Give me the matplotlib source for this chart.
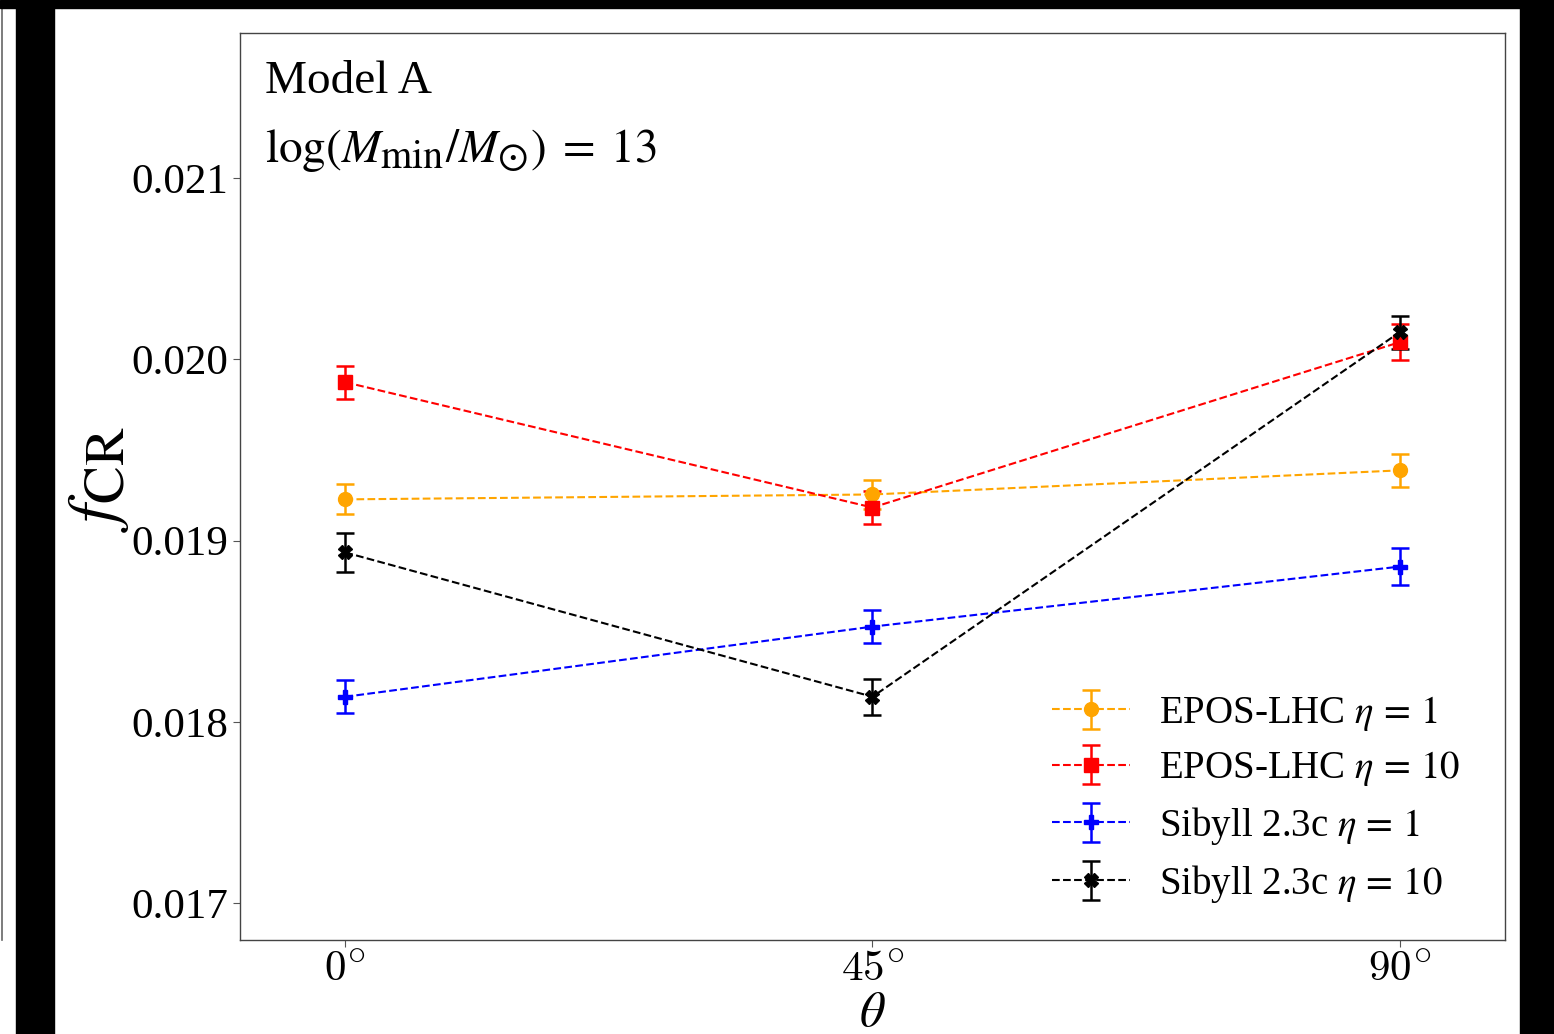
import matplotlib
matplotlib.use("Agg")
import matplotlib.pyplot as plt
from matplotlib.patches import Rectangle
from matplotlib.lines import Line2D
from matplotlib import _mathtext

plt.rcParams['font.family'] = ['Liberation Serif', 'DejaVu Serif']
plt.rcParams['mathtext.fontset'] = 'stix'
# the original (LaTeX) subscripts are set much larger than mathtext's default
_mathtext.SHRINK_FACTOR = 0.85

# zenith angle positions and labels
angles = [0, 1, 2]
angle_labels = [r'$0^{\circ}$', r'$45^{\circ}$', r'$90^{\circ}$']

# f_CR values
epos_eta1 = [0.019227, 0.019254, 0.019387]
epos_eta1_err = [0.000083, 0.000078, 0.000090]
epos_eta10 = [0.019873, 0.019182, 0.020094]
epos_eta10_err = [0.000090, 0.000090, 0.000100]
sib_eta1 = [0.018138, 0.018525, 0.018856]
sib_eta1_err = [0.000090, 0.000090, 0.000100]
sib_eta10 = [0.018934, 0.018138, 0.020149]
sib_eta10_err = [0.000110, 0.000100, 0.000090]

series = [
    (epos_eta1, epos_eta1_err, 'orange', 'o', r'EPOS-LHC $\eta\,=\,1$'),
    (epos_eta10, epos_eta10_err, 'red', 's', r'EPOS-LHC $\eta\,=\,10$'),
    (sib_eta1, sib_eta1_err, 'blue', 'P', r'Sibyll 2.3c $\eta\,=\,1$'),
    (sib_eta10, sib_eta10_err, 'black', 'X', r'Sibyll 2.3c $\eta\,=\,10$'),
]

W, H = 1554, 1034
fig = plt.figure(figsize=(W / 100, H / 100), dpi=100)
ax = fig.add_axes([240 / W, 1 - 940 / H, 1265 / W, 907 / H])

for vals, errs, col, mk, lab in series:
    ax.errorbar(angles, vals, yerr=errs, color=col, marker=mk, ls='--',
                lw=1.5, ms=10, capsize=6.5, elinewidth=1.8, capthick=1.8,
                label=lab)

ax.set_xlim(-0.2, 2.2)
ax.set_ylim(0.016796, 0.0218)
ax.set_xticks(angles)
ax.set_xticklabels(angle_labels, math_fontfamily='cm')
ax.set_yticks([0.017, 0.018, 0.019, 0.020, 0.021])
ax.set_yticklabels(['0.017', '0.018', '0.019', '0.020', '0.021'])
ax.tick_params(labelsize=31, length=5, color='#555555')
for sp in ax.spines.values():
    sp.set_color('#444444')
    sp.set_linewidth(1.0)

ax.set_xlabel(r'$\theta$', fontsize=36, labelpad=0)
ax.set_ylabel(r'$f_{\rm CR}$', fontsize=48)
ax.yaxis.set_label_coords(-0.086, 0.508)

ax.text(0.02, 0.934, 'Model A', transform=ax.transAxes, fontsize=34)
ax.text(0.02, 0.858, r'$\log(M_{\rm min}/M_{\odot})\;=\;13$',
        transform=ax.transAxes, fontsize=34)

ax.legend(loc='lower right', frameon=False, fontsize=28,
          bbox_to_anchor=(0.992, 0.0), handlelength=2.0,
          labelspacing=0.42, handletextpad=0.75)

# screenshot framing: black bars and a sliver of the neighbouring panel
fig.patches.append(Rectangle((16 / W, 0), 38 / W, 1, transform=fig.transFigure,
                             color='black', zorder=10))
fig.patches.append(Rectangle((1520 / W, 0), 34 / W, 1, transform=fig.transFigure,
                             color='black', zorder=10))
fig.patches.append(Rectangle((0, 1 - 8 / H), 1, 8 / H, transform=fig.transFigure,
                             color='black', zorder=10))
fig.lines.append(Line2D([2 / W, 2 / W], [1 - 940 / H, 1 - 8 / H],
                        transform=fig.transFigure, color='#666666', lw=1.2))

fig.savefig('out.png', dpi=100)
